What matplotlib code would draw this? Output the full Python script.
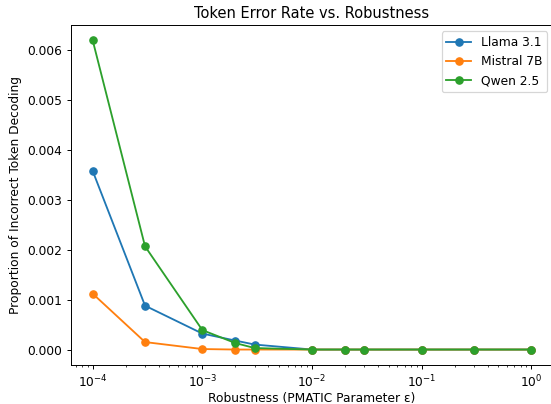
import matplotlib
matplotlib.use("Agg")
import matplotlib.pyplot as plt

# robustness parameter values (PMATIC epsilon)
eps = [1e-4, 3e-4, 1e-3, 2e-3, 3e-3, 1e-2, 2e-2, 3e-2, 1e-1, 3e-1, 1.0]

llama = [0.00358, 0.00088, 0.00032, 0.00018, 0.00010, 0.0, 0.0, 0.0, 0.0, 0.0, 0.0]
mistral = [0.00112, 0.00015, 0.00001, 0.0, 0.0, 0.0, 0.0, 0.0, 0.0, 0.0, 0.0]
qwen = [0.00620, 0.00207, 0.00039, 0.00013, 0.00003, 0.0, 0.0, 0.0, 0.0, 0.0, 0.0]

W, H, DPI = 551, 404, 88
fig = plt.figure(figsize=(W / DPI, H / DPI), dpi=DPI)
# axes box placed to match the reference (in pixels: left, bottom, width, height)
ax = fig.add_axes([70.8 / W, (H - 365) / H, 482.4 / W, 340 / H])

ax.plot(eps, llama, marker="o", label="Llama 3.1")
ax.plot(eps, mistral, marker="o", label="Mistral 7B")
ax.plot(eps, qwen, marker="o", label="Qwen 2.5")

ax.set_xscale("log")
ax.set_xlabel("Robustness (PMATIC Parameter ε)", labelpad=1.5)
ax.set_ylabel("Proportion of Incorrect Token Decoding")
ax.set_title("Token Error Rate vs. Robustness")
ax.legend(loc="upper right")

fig.savefig("out.png", dpi=DPI)
